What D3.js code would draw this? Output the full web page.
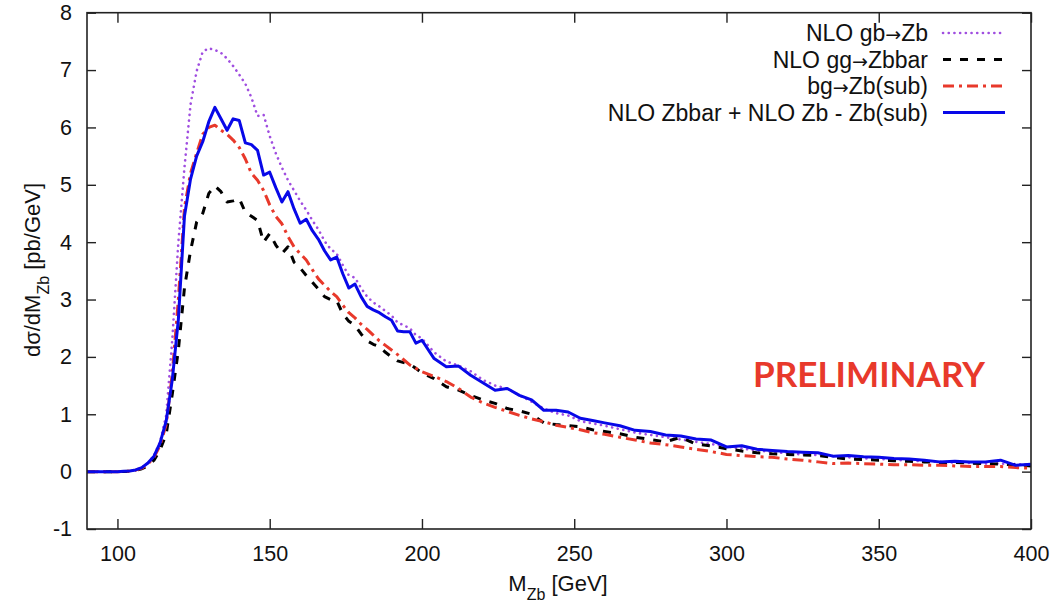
<!DOCTYPE html>
<html>
<head>
<meta charset="utf-8">
<script src="https://cdn.jsdelivr.net/npm/d3@7"></script>
<style>
    html, body { margin: 0; padding: 0; background: #fff; }
    svg { display: block; font-family: "Liberation Sans", Arial, Helvetica, sans-serif; }
</style>
</head>
<body>
<div id="chart"></div>
<script>
// M_Zb bin positions [GeV]
const mass = [
    90, 95, 100, 102, 104, 106, 108, 110, 112, 114, 116, 118, 120, 122, 124, 126, 128, 130,
    132, 134, 136, 138, 140, 142, 144, 146, 148, 150, 152, 154, 156, 158, 160, 162, 164, 166,
    168, 170, 172, 174, 176, 178, 180, 182, 184, 186, 188, 190, 192, 194, 196, 198, 200,
    204, 208, 212, 216, 220, 224, 228, 232, 236, 240, 244, 248, 252, 256, 260,
    265, 270, 275, 280, 285, 290, 295, 300, 305, 310, 315, 320, 325, 330, 335, 340, 345, 350,
    355, 360, 365, 370, 375, 380, 385, 390, 395, 400
];

// NLO gb->Zb (purple dotted)
const nloGbZb = [
    0, 0, 0, 0.005, 0.01, 0.03, 0.07, 0.15, 0.28, 0.52, 0.98, 2.3, 4.0, 5.3, 6.4, 6.98, 7.32, 7.38,
    7.35, 7.3, 7.2, 7.07, 6.92, 6.76, 6.52, 6.2, 6.22, 5.85, 5.55, 5.3, 5.08, 4.9, 4.72, 4.56, 4.38, 4.22,
    4.02, 3.88, 3.8, 3.6, 3.42, 3.38, 3.2, 3.05, 2.95, 2.88, 2.8, 2.72, 2.6, 2.55, 2.5, 2.38, 2.32,
    2.08, 1.92, 1.85, 1.75, 1.6, 1.5, 1.45, 1.33, 1.22, 1.1, 1.02, 0.98, 0.88, 0.84, 0.8,
    0.74, 0.68, 0.64, 0.6, 0.56, 0.52, 0.48, 0.44, 0.4, 0.37, 0.34, 0.32, 0.3, 0.29, 0.27, 0.25, 0.23, 0.22,
    0.21, 0.19, 0.18, 0.17, 0.16, 0.15, 0.14, 0.14, 0.13, 0.12
];

// NLO gg->Zbbar (black dashed)
const nloGgZbbar = [
    0, 0, 0, 0.003, 0.008, 0.02, 0.05, 0.1, 0.2, 0.38, 0.65, 1.35, 2.12, 3.2, 3.85, 4.35, 4.5, 4.85,
    4.98, 4.88, 4.7, 4.72, 4.76, 4.52, 4.45, 4.38, 4.0, 4.15, 3.95, 3.8, 3.92, 3.65, 3.55, 3.42, 3.3, 3.18,
    3.05, 3.0, 2.98, 2.75, 2.62, 2.55, 2.4, 2.28, 2.22, 2.18, 2.08, 2.0, 1.93, 1.9, 1.87, 1.8, 1.72,
    1.62, 1.48, 1.42, 1.33, 1.25, 1.19, 1.1, 1.06, 1.0, 0.85, 0.82, 0.8, 0.78, 0.73, 0.7,
    0.66, 0.6, 0.56, 0.52, 0.6, 0.48, 0.45, 0.4, 0.36, 0.33, 0.31, 0.3, 0.29, 0.28, 0.25, 0.22, 0.21, 0.2,
    0.19, 0.18, 0.17, 0.16, 0.16, 0.15, 0.14, 0.13, 0.12, 0.1
];

// bg->Zb(sub) (red dash-dot)
const bgZbSub = [
    0, 0, 0, 0.005, 0.01, 0.025, 0.06, 0.13, 0.25, 0.46, 0.82, 1.7, 3.0, 4.6, 5.2, 5.55, 5.88, 6.0,
    6.04, 5.95, 5.88, 5.78, 5.65, 5.45, 5.2, 5.08, 4.9, 4.65, 4.45, 4.32, 4.1, 3.92, 3.8, 3.69, 3.52, 3.36,
    3.25, 3.14, 3.05, 2.9, 2.77, 2.68, 2.57, 2.48, 2.38, 2.28, 2.2, 2.12, 2.04, 1.95, 1.86, 1.8, 1.74,
    1.66, 1.57, 1.45, 1.3, 1.2, 1.12, 1.05, 0.98, 0.92, 0.87, 0.81, 0.77, 0.73, 0.68, 0.65,
    0.6, 0.55, 0.5, 0.47, 0.43, 0.39, 0.35, 0.3, 0.28, 0.26, 0.25, 0.22, 0.2, 0.17, 0.14, 0.15, 0.14, 0.13,
    0.12, 0.12, 0.11, 0.11, 0.1, 0.09, 0.09, 0.09, 0.07, 0.06
];

// NLO Zbbar + NLO Zb - Zb(sub) (blue solid)
const nloCombined = [
    0, 0, 0, 0.005, 0.01, 0.03, 0.07, 0.15, 0.27, 0.5, 0.88, 1.6, 2.65, 4.45, 5.1, 5.5, 5.75, 6.1,
    6.35, 6.15, 5.95, 6.15, 6.12, 5.73, 5.7, 5.6, 5.17, 5.22, 4.95, 4.7, 4.88, 4.58, 4.33, 4.4, 4.2, 4.05,
    3.85, 3.69, 3.74, 3.45, 3.2, 3.27, 3.05, 2.88, 2.82, 2.77, 2.7, 2.64, 2.45, 2.44, 2.44, 2.24, 2.29,
    1.97, 1.83, 1.84, 1.68, 1.55, 1.42, 1.45, 1.33, 1.25, 1.07, 1.07, 1.04, 0.93, 0.89, 0.85,
    0.8, 0.72, 0.7, 0.64, 0.62, 0.57, 0.55, 0.43, 0.45, 0.39, 0.37, 0.35, 0.34, 0.33, 0.27, 0.28, 0.26, 0.25,
    0.23, 0.22, 0.2, 0.17, 0.18, 0.17, 0.17, 0.2, 0.11, 0.13
];

// legend labels split around the arrow glyph: [before, arrow?, after]
const seriesNames = [
    ['NLO gb', '\u2192', 'Zb'],
    ['NLO gg', '\u2192', 'Zbbar'],
    ['bg', '\u2192', 'Zb(sub)'],
    ['NLO Zbbar + NLO Zb - Zb(sub)', '', '']
];
const xTicks = [100, 150, 200, 250, 300, 350, 400];
const yTicks = [-1, 0, 1, 2, 3, 4, 5, 6, 7, 8];

const Chart = (function() {
    'use strict';

    const width = 1057;
    const height = 604;
    const margin = { top: 12.7, right: 26, bottom: 75, left: 87 };
    const innerW = width - margin.left - margin.right;
    const innerH = height - margin.top - margin.bottom;

    // line styles, in legend order
    const styles = [
        { values: nloGbZb, color: '#a04ee0', dash: '0.1,5.6', width: 2.6, cap: 'round' },
        { values: nloGgZbbar, color: '#000000', dash: '8,9', width: 3, cap: 'butt' },
        { values: bgZbSub, color: '#e8392b', dash: '11,5,3,5', width: 3, cap: 'butt' },
        { values: nloCombined, color: '#0808e8', dash: null, width: 3, cap: 'butt' }
    ];

    function draw() {
        const svg = d3.select('#chart')
            .append('svg')
            .attr('width', width)
            .attr('height', height);

        const g = svg.append('g')
            .attr('transform', `translate(${margin.left},${margin.top})`);

        const x = d3.scaleLinear().domain([90, 400]).range([0, innerW]);
        const y = d3.scaleLinear().domain([-1, 8]).range([innerH, 0]);

        // clip curves to the frame
        svg.append('defs').append('clipPath')
            .attr('id', 'plot-clip')
            .append('rect')
            .attr('width', innerW)
            .attr('height', innerH);

        // axes (ticks point inward, mirrored on top/right)
        const styleAxis = sel => {
            sel.select('.domain').remove();
            sel.selectAll('line').attr('stroke', '#222').attr('stroke-width', 1.4);
            sel.selectAll('text').attr('fill', '#111').style('font-size', '21.5px');
        };

        g.append('g')
            .attr('transform', `translate(0,${innerH})`)
            .call(d3.axisBottom(x).tickValues(xTicks).tickSizeInner(-10).tickSizeOuter(0).tickPadding(17))
            .call(styleAxis);

        g.append('g')
            .call(d3.axisTop(x).tickValues(xTicks).tickSizeInner(-10).tickSizeOuter(0).tickFormat(''))
            .call(styleAxis);

        g.append('g')
            .call(d3.axisLeft(y).tickValues(yTicks).tickSizeInner(-9).tickSizeOuter(0).tickPadding(15)
                .tickFormat(d => String(d)))
            .call(styleAxis);

        g.append('g')
            .attr('transform', `translate(${innerW},0)`)
            .call(d3.axisRight(y).tickValues(yTicks).tickSizeInner(-9).tickSizeOuter(0).tickFormat(''))
            .call(styleAxis);

        // curves
        const line = d3.line()
            .x((d, i) => x(mass[i]))
            .y(d => y(d));

        const curves = g.append('g').attr('clip-path', 'url(#plot-clip)');

        styles.forEach(s => {
            curves.append('path')
                .datum(s.values)
                .attr('d', line)
                .attr('fill', 'none')
                .attr('stroke', s.color)
                .attr('stroke-width', s.width)
                .attr('stroke-linecap', s.cap)
                .attr('stroke-linejoin', 'round')
                .attr('stroke-dasharray', s.dash);
        });

        // frame
        g.append('rect')
            .attr('width', innerW)
            .attr('height', innerH)
            .attr('fill', 'none')
            .attr('stroke', '#222')
            .attr('stroke-width', 1.6);

        // legend
        const legend = g.append('g')
            .attr('transform', `translate(${928 - margin.left},${33 - margin.top})`);

        styles.forEach((s, i) => {
            const row = legend.append('g').attr('transform', `translate(0,${i * 26.5})`);
            const [pre, arrow, post] = seriesNames[i];
            const t = row.append('text')
                .attr('x', 0)
                .attr('dy', '0.35em')
                .attr('text-anchor', 'end')
                .attr('fill', '#111')
                .style('font-size', '23px');
            t.append('tspan').text(pre);
            if (arrow) {
                t.append('tspan').style('font-family', '"DejaVu Sans", sans-serif').style('font-size', '19px').text(arrow);
                t.append('tspan').text(post);
            }
            row.append('line')
                .attr('x1', 15)
                .attr('x2', 77)
                .attr('stroke', s.color)
                .attr('stroke-width', s.width)
                .attr('stroke-linecap', s.cap)
                .attr('stroke-dasharray', s.dash);
        });

        // PRELIMINARY stamp
        g.append('text')
            .attr('x', 753 - margin.left)
            .attr('y', 387 - margin.top)
            .attr('fill', '#e8392b')
            .attr('textLength', 232)
            .attr('lengthAdjust', 'spacingAndGlyphs')
            .style('font-family', 'Lato, "Open Sans", sans-serif')
            .style('font-weight', 'bold')
            .style('font-size', '34px')
            .text('PRELIMINARY');

        // axis titles
        const xt = svg.append('text')
            .attr('x', 558)
            .attr('y', 591)
            .attr('text-anchor', 'middle')
            .attr('fill', '#111')
            .style('font-size', '22px');
        xt.append('tspan').text('M');
        xt.append('tspan').attr('baseline-shift', 'sub').style('font-size', '16px').text('Zb');
        xt.append('tspan').attr('baseline-shift', '0').text(' [GeV]');

        const yt = svg.append('text')
            .attr('transform', 'translate(40,270) rotate(-90)')
            .attr('text-anchor', 'middle')
            .attr('fill', '#111')
            .style('font-size', '22px');
        yt.append('tspan').text('d\u03c3/dM');
        yt.append('tspan').attr('baseline-shift', 'sub').style('font-size', '16px').text('Zb');
        yt.append('tspan').attr('baseline-shift', '0').text(' [pb/GeV]');
    }

    return { draw };
})();

Chart.draw();
</script>
</body>
</html>
